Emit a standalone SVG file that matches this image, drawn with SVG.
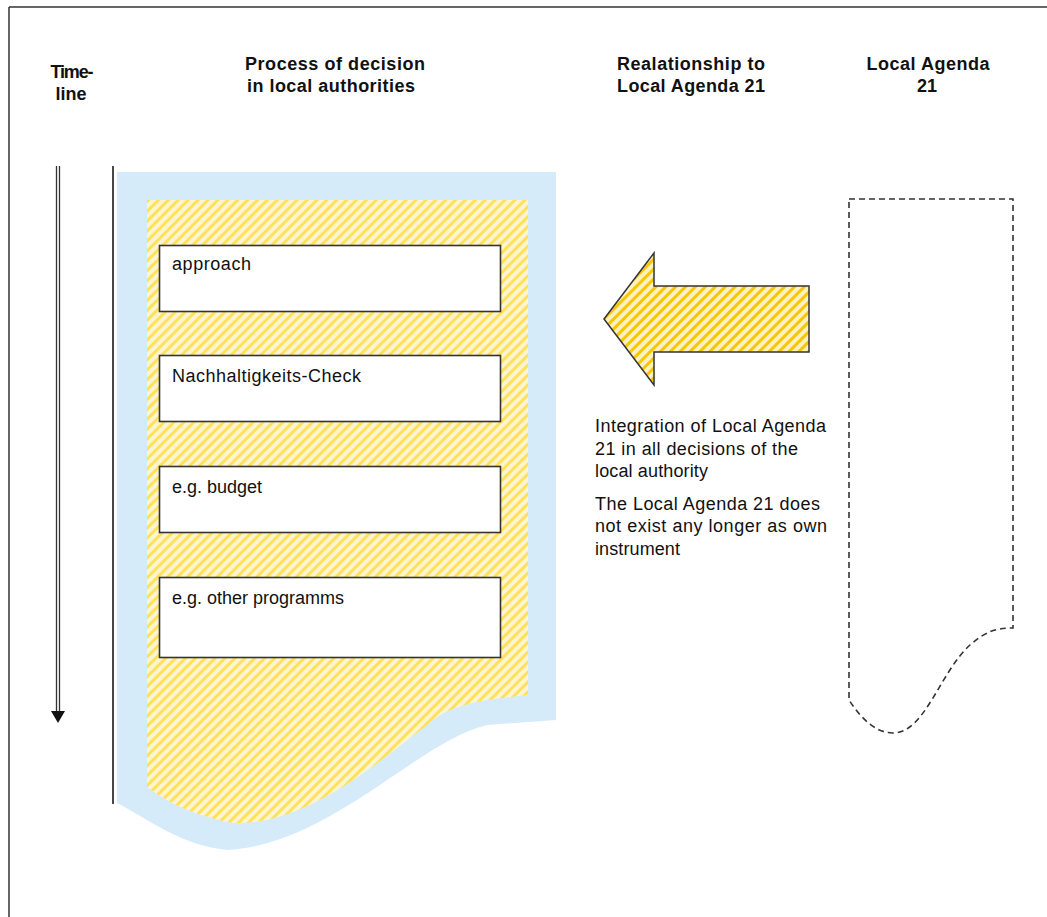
<svg xmlns="http://www.w3.org/2000/svg" width="1047" height="917" viewBox="0 0 1047 917">
<defs>
<pattern id="hatch" width="7" height="7" patternUnits="userSpaceOnUse" patternTransform="rotate(45)">
<rect width="7" height="7" fill="#FFF4D2"/>
<rect width="3" height="7" fill="#FFE25A"/>
</pattern>
<pattern id="hatch2" width="7" height="7" patternUnits="userSpaceOnUse" patternTransform="rotate(45)">
<rect width="7" height="7" fill="#FFF0C4"/>
<rect width="3" height="7" fill="#F5C800"/>
</pattern>
</defs>
<style>
.hd{font-family:"Liberation Sans",Arial,sans-serif;font-size:18px;font-weight:bold;fill:#111;text-anchor:middle}
.tx{font-family:"Liberation Sans",Arial,sans-serif;font-size:18px;fill:#111}
.box{fill:#fff;stroke:#333;stroke-width:1.6}
.ln{stroke:#333;fill:none}
</style>
<rect width="1047" height="917" fill="#fff"/>
<g id="frame">
<line class="ln" x1="9" y1="7" x2="1047" y2="7" stroke-width="1.5"/>
<line class="ln" x1="9" y1="7" x2="9" y2="917" stroke-width="1.5"/>
</g>
<g id="headers">
<text class="hd" x="72" y="78" textLength="43">Time-</text>
<text class="hd" x="71" y="100">line</text>
<text class="hd" x="335" y="70" textLength="180">Process of decision</text>
<text class="hd" x="331" y="92" textLength="168">in local authorities</text>
<text class="hd" x="691" y="70" textLength="148">Realationship to</text>
<text class="hd" x="691" y="92" textLength="148">Local Agenda 21</text>
<text class="hd" x="928" y="70" textLength="123">Local Agenda</text>
<text class="hd" x="927" y="92">21</text>
</g>
<g id="timeline">
<line class="ln" x1="56.5" y1="166" x2="56.5" y2="712" stroke-width="1.3"/>
<line class="ln" x1="59.5" y1="166" x2="59.5" y2="712" stroke-width="1.3"/>
<polygon points="51,711 65,711 58,723" fill="#111"/>
<line class="ln" x1="113" y1="166" x2="113" y2="804" stroke-width="1.8"/>
</g>
<g id="process">
<path d="M117,172 H556 V720 L487,725 C420,740 330,845 227,850 C180,845 150,820 117,803 Z" fill="#D5EBFA"/>
<path d="M147,200 H528 V695 C490,699 462,702 440,715 C380,760 310,825 233,823 C190,815 165,800 147,787 Z" fill="url(#hatch)"/>
</g>
<g id="box-approach">
<rect class="box" x="159.5" y="245.5" width="341" height="66"/>
<text class="tx" x="172" y="270" textLength="79">approach</text>
</g>
<g id="box-check">
<rect class="box" x="159.5" y="355.5" width="341" height="66"/>
<text class="tx" x="172" y="382" textLength="189">Nachhaltigkeits-Check</text>
</g>
<g id="box-budget">
<rect class="box" x="159.5" y="466.5" width="341" height="66"/>
<text class="tx" x="172" y="493">e.g. budget</text>
</g>
<g id="box-programs">
<rect class="box" x="159.5" y="577.5" width="341" height="80"/>
<text class="tx" x="172" y="604">e.g. other programms</text>
</g>
<g id="connectors">
<polygon points="604,319 654,253 654,286 809,286 809,352 654,352 654,385" fill="url(#hatch2)" stroke="#333" stroke-width="1.5" stroke-linejoin="miter"/>
</g>
<g id="relationship-text">
<text class="tx" x="595" y="432" textLength="231">Integration of Local Agenda</text>
<text class="tx" x="595" y="455" textLength="203">21 in all decisions of the</text>
<text class="tx" x="595" y="477" textLength="113">local authority</text>
<text class="tx" x="595" y="510" textLength="225">The Local Agenda 21 does</text>
<text class="tx" x="595" y="532" textLength="232">not exist any longer as own</text>
<text class="tx" x="595" y="555" textLength="85">instrument</text>
</g>
<g id="local-agenda">
<path d="M849,199 H1013 V628 C995,628 985,632 970,645 C940,672 925,733 893,733 C875,733 860,717 849,700 Z" fill="none" stroke="#333" stroke-width="1.6" stroke-dasharray="6,4"/>
</g>
</svg>
